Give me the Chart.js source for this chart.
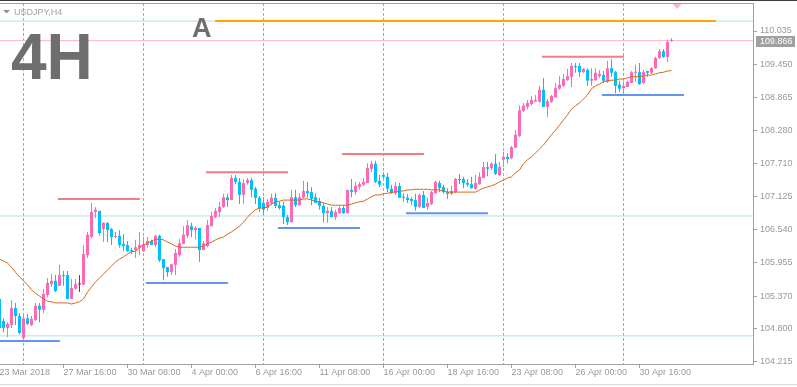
<!DOCTYPE html>
<html><head><meta charset="utf-8">
<script src="https://cdn.jsdelivr.net/npm/chart.js@4.4.1/dist/chart.umd.min.js"></script>
<style>html,body{margin:0;padding:0;background:#fff;overflow:hidden}canvas{display:block}</style>
</head><body>
<canvas id="c" width="797" height="387"></canvas>
<script>
const symbolTitle = 'USDJPY,H4';
const bigLabel = '4H';
const levelTag = 'A';
const xTickLabels = ['23 Mar 2018','27 Mar 16:00','30 Mar 08:00','4 Apr 00:00','6 Apr 16:00','11 Apr 08:00','16 Apr 00:00','18 Apr 16:00','23 Apr 08:00','26 Apr 00:00','30 Apr 16:00'];
const xTickBars = [0,16,32,48,64,80,96,112,128,144,160];
const gridBars = [6,36,66,96,126,156];
const yTickValues = [110.035,109.450,108.865,108.280,107.710,107.125,106.540,105.955,105.370,104.800,104.215];

const opens = [105.32,104.93,104.81,104.86,105.16,105.02,104.63,104.98,104.86,104.95,105.20,105.13,105.39,105.58,105.64,105.55,105.74,105.74,105.32,105.50,
105.575,105.57,106.09,106.41,106.85,106.87,106.55,106.66,106.55,106.41,106.43,106.29,106.27,106.18,106.18,106.22,106.16,106.27,106.34,106.27,
106.43,106.02,105.88,105.79,105.92,106.09,106.29,106.43,106.60,106.53,106.57,106.18,106.25,106.60,106.76,106.85,106.94,107.11,107.06,107.45,
107.38,107.15,107.36,107.41,107.26,107.10,107.01,106.92,107.01,107.10,106.97,106.96,106.76,106.67,107.11,106.97,107.11,107.22,107.20,107.11,
107.04,106.96,106.83,106.87,106.76,106.83,106.92,106.83,107.24,107.20,107.29,107.33,107.36,107.61,107.70,107.40,107.50,107.47,107.26,107.18,
107.31,107.11,107.10,107.08,107.06,106.94,107.15,106.94,106.99,107.18,107.36,107.29,107.20,107.17,107.20,107.43,107.43,107.36,107.34,107.26,
107.34,107.45,107.64,107.62,107.70,107.50,107.77,107.82,107.80,107.98,108.19,108.63,108.70,108.75,108.79,108.79,109.00,108.70,108.79,108.87,
109.02,109.07,109.17,109.23,109.42,109.42,109.31,109.35,109.16,109.17,109.24,109.26,109.14,109.38,109.31,109.09,109.03,109.05,109.12,109.30,
109.31,109.12,109.33,109.30,109.38,109.56,109.68,109.58,109.86];
const highs = [105.37,104.98,104.91,105.30,105.25,105.07,105.06,105.06,105.02,105.25,105.25,105.50,105.69,105.76,105.74,105.92,105.81,105.81,105.67,105.67,
105.74,106.27,106.50,107.01,106.94,106.87,106.67,106.67,106.57,106.50,106.53,106.46,106.34,106.22,106.36,106.50,106.41,106.41,106.36,106.45,
106.45,106.02,105.88,105.93,106.20,106.37,106.60,106.71,106.66,106.60,106.57,106.34,106.71,106.85,106.92,107.03,107.17,107.17,107.50,107.50,
107.45,107.43,107.45,107.45,107.29,107.13,107.11,107.08,107.17,107.18,107.03,107.03,106.80,107.24,107.24,107.18,107.40,107.38,107.29,107.18,
107.10,107.01,106.94,106.94,106.89,106.96,106.97,107.24,107.43,107.38,107.38,107.45,107.71,107.75,107.75,107.50,107.55,107.54,107.33,107.38,
107.36,107.18,107.17,107.11,107.17,107.17,107.22,107.10,107.22,107.40,107.40,107.33,107.27,107.31,107.45,107.52,107.47,107.43,107.47,107.50,
107.55,107.73,107.73,107.73,107.87,107.73,107.91,107.89,108.01,108.29,108.73,108.77,108.82,108.89,108.91,109.07,109.21,108.84,108.91,109.12,
109.24,109.28,109.37,109.47,109.47,109.47,109.38,109.38,109.38,109.38,109.35,109.33,109.51,109.54,109.33,109.16,109.14,109.16,109.33,109.44,
109.47,109.35,109.33,109.40,109.58,109.72,109.72,109.88,109.91];
const lows = [104.74,104.74,104.65,104.81,104.86,104.70,104.61,104.86,104.84,104.93,104.91,105.07,105.35,105.53,105.44,105.55,105.55,105.32,105.32,105.48,
105.44,105.57,106.04,106.39,106.74,106.43,106.32,106.32,106.27,106.39,106.22,106.16,106.15,106.11,106.04,106.09,106.15,106.22,106.27,106.23,
105.97,105.65,105.71,105.74,105.74,106.06,106.29,106.39,106.41,106.37,105.97,106.18,106.23,106.60,106.74,106.76,106.92,106.94,107.06,107.34,
106.99,106.99,107.33,107.11,106.99,106.85,106.80,106.87,106.97,106.92,106.89,106.64,106.62,106.67,106.94,106.96,107.08,107.10,106.97,107.01,
106.89,106.67,106.66,106.76,106.71,106.82,106.82,106.82,107.11,107.15,107.24,107.31,107.36,107.55,107.36,107.29,107.45,107.20,107.17,107.15,
107.10,107.03,107.01,106.97,106.87,106.92,106.92,106.89,106.97,107.17,107.20,107.17,107.08,107.15,107.18,107.34,107.27,107.29,107.26,107.24,
107.33,107.45,107.48,107.59,107.50,107.48,107.64,107.71,107.78,107.98,108.17,108.61,108.66,108.72,108.79,108.77,108.70,108.52,108.77,108.87,
109.00,109.05,109.16,109.05,109.30,109.23,109.30,109.07,109.07,109.16,109.21,109.12,109.12,109.23,108.94,108.96,108.94,109.05,109.12,109.14,
109.09,109.10,109.23,109.28,109.37,109.54,109.56,109.49,109.84];
const closes = [104.81,104.81,104.88,105.16,105.02,104.72,104.98,104.88,104.97,105.20,105.13,105.41,105.60,105.64,105.46,105.74,105.72,105.32,105.51,105.58,
105.575,106.11,106.45,106.85,106.89,106.48,106.66,106.53,106.41,106.43,106.27,106.25,106.16,106.16,106.23,106.27,106.29,106.34,106.27,106.43,
106.00,105.86,105.79,105.93,106.13,106.30,106.45,106.62,106.53,106.57,106.18,106.30,106.62,106.78,106.87,106.94,107.11,107.06,107.45,107.38,
107.15,107.36,107.41,107.24,107.10,106.92,106.89,107.03,107.10,106.96,106.92,106.76,106.67,107.11,106.97,107.11,107.22,107.18,107.08,107.01,
106.96,106.83,106.87,106.76,106.85,106.92,106.83,107.24,107.20,107.31,107.34,107.38,107.62,107.70,107.38,107.33,107.47,107.26,107.18,107.31,
107.10,107.10,107.06,107.04,106.94,107.15,106.92,107.01,107.20,107.38,107.27,107.20,107.17,107.22,107.43,107.41,107.36,107.33,107.27,107.36,
107.47,107.64,107.61,107.70,107.52,107.64,107.82,107.78,107.99,108.21,108.64,108.72,108.77,108.82,108.82,109.00,108.70,108.80,108.89,109.03,
109.09,109.19,109.24,109.42,109.40,109.31,109.37,109.16,109.19,109.30,109.28,109.16,109.38,109.30,109.07,109.02,109.07,109.14,109.31,109.31,
109.10,109.31,109.30,109.38,109.56,109.68,109.58,109.84,109.866];
const maValues = [106.02,105.99,105.95,105.88,105.79,105.71,105.64,105.57,105.48,105.42,105.37,105.32,105.28,105.27,105.25,105.25,105.25,105.25,105.23,105.25,
105.27,105.32,105.44,105.53,105.62,105.69,105.76,105.83,105.90,105.97,106.02,106.06,106.11,106.15,106.16,106.22,106.27,106.30,106.34,106.37,
106.37,106.36,106.32,106.29,106.25,106.23,106.23,106.23,106.23,106.23,106.23,106.25,106.29,106.32,106.36,106.39,106.41,106.46,106.50,106.55,
106.60,106.67,106.76,106.83,106.89,106.92,106.92,106.94,106.99,107.03,107.04,107.06,107.06,107.06,107.06,107.06,107.08,107.08,107.06,107.04,
107.03,107.01,106.99,106.97,106.97,106.97,106.97,106.97,106.99,107.01,107.03,107.04,107.08,107.12,107.15,107.15,107.17,107.18,107.20,107.20,
107.22,107.22,107.24,107.24,107.25,107.25,107.25,107.25,107.24,107.24,107.24,107.22,107.20,107.20,107.20,107.20,107.20,107.20,107.20,107.20,
107.24,107.27,107.29,107.31,107.34,107.38,107.41,107.45,107.47,107.54,107.59,107.70,107.77,107.82,107.89,107.96,108.03,108.12,108.21,108.29,
108.38,108.47,108.56,108.66,108.72,108.77,108.84,108.91,109.02,109.07,109.10,109.14,109.16,109.17,109.17,109.19,109.19,109.21,109.23,109.23,
109.24,109.24,109.26,109.26,109.28,109.30,109.31,109.33,109.34];

const levelLines = [110.21, 106.78, 104.67];
const currentPrice = 109.866;
const levelA = 110.21, levelAFrom = 53.9, levelATo = 179.1;
const resistLevels = [107.08, 107.55, 107.87, 109.58];
const resistFrom = [14.6, 51.6, 85.6, 135.6];
const resistTo = [35.1, 72.1, 106.1, 156.1];
const supportLevels = [104.58, 105.60, 106.57, 106.83, 108.91];
const supportFrom = [0, 36.6, 69.6, 101.6, 150.6];
const supportTo = [15.1, 57.1, 90.1, 122.1, 171.1];

const X_MIN = 0.125, X_MAX = 188.375, Y_MIN = 104.175, Y_MAX = 110.528;
const BULL = '#ff69b4', BEAR = '#00bfff', DOJI = '#ff0000';
const FONT = '"Liberation Sans", Arial, sans-serif';
Chart.defaults.font.family = FONT;
Chart.defaults.font.size = 9;

const candleColors = opens.map((o, i) => closes[i] > o ? BULL : (closes[i] < o ? BEAR : DOJI));
const wickData = highs.map((h, i) => ({x: i, y: [lows[i], h]}));
const bodyData = opens.map((o, i) => ({x: i, y: [o, closes[i]]}));
const maData = maValues.map((v, i) => ({x: i, y: v}));

function seg(from, to, val, color, width, order) {
  return {type: 'line', data: [{x: from, y: val}, {x: to, y: val}], borderColor: color, borderWidth: width,
    pointRadius: 0, fill: false, order: order, tension: 0};
}
const datasets = [];
levelLines.forEach(v => datasets.push(seg(X_MIN, X_MAX, v, '#b0e0e6', 1, 20)));
datasets.push(seg(X_MIN, X_MAX, currentPrice, '#ffb6c1', 1, 19));
datasets.push({type: 'bar', data: wickData, backgroundColor: candleColors, barThickness: 1, grouped: false,
  borderWidth: 0, inflateAmount: 0, order: 6});
datasets.push({type: 'bar', data: bodyData, backgroundColor: candleColors, barThickness: 3, grouped: false,
  borderWidth: 0, inflateAmount: 0, minBarLength: 1, order: 5});
datasets.push({type: 'line', data: maData, borderColor: '#d2691e', borderWidth: 1, pointRadius: 0, tension: 0, order: 4});
resistLevels.forEach((v, i) => datasets.push(seg(resistFrom[i], resistTo[i], v, '#f08080', 2, 2)));
supportLevels.forEach((v, i) => datasets.push(seg(supportFrom[i], supportTo[i], v, '#6495ed', 2, 2)));
datasets.push(seg(levelAFrom, levelATo, levelA, '#ffa500', 2, 1));

const decor = {
  id: 'decor',
  beforeDraw(chart) {
    const ctx = chart.ctx;
    ctx.save(); ctx.fillStyle = '#fff'; ctx.fillRect(0, 0, chart.width, chart.height); ctx.restore();
  },
  afterDraw(chart) {
    const {ctx, chartArea: a, scales: {x, y}} = chart;
    ctx.save();
    ctx.fillStyle = '#3c3c3c'; ctx.fillRect(0, 0, chart.width, 1);
    ctx.fillStyle = '#a0a0a0'; ctx.fillRect(a.left, Math.round(a.top), a.right - a.left, 1);
    ctx.fillStyle = '#d8d8d8'; ctx.fillRect(0, chart.height - 3, chart.width, 1);
    // title
    ctx.fillStyle = '#909090';
    ctx.beginPath(); ctx.moveTo(3, 10); ctx.lineTo(10, 10); ctx.lineTo(6.5, 13.5); ctx.closePath(); ctx.fill();
    ctx.fillStyle = '#a0a0a0'; ctx.font = '9px ' + FONT; ctx.textBaseline = 'alphabetic'; ctx.textAlign = 'left';
    ctx.fillText(symbolTitle, 14, 15);
    // big label
    ctx.fillStyle = '#6e6e6e'; ctx.font = 'bold 64px ' + FONT;
    ctx.fillText(bigLabel, 11, 79);
    // A tag
    ctx.font = 'bold 27px ' + FONT;
    ctx.fillText(levelTag, x.getPixelForValue(48.1), y.getPixelForValue(levelA) + 16);
    // current price box
    const py = Math.round(y.getPixelForValue(currentPrice));
    ctx.fillStyle = '#a0a0a0'; ctx.fillRect(a.right + 3, py - 5, 39, 11);
    ctx.fillStyle = '#ffffff'; ctx.font = '9px ' + FONT; ctx.textBaseline = 'middle';
    ctx.fillText(currentPrice.toFixed(3), a.right + 7, py + 0.5);
    // shift marker
    const mx = x.getPixelForValue(169.4);
    ctx.fillStyle = '#ffb6c1';
    ctx.beginPath(); ctx.moveTo(mx - 4.5, a.top + 1); ctx.lineTo(mx + 4.5, a.top + 1); ctx.lineTo(mx, a.top + 6); ctx.closePath(); ctx.fill();
    ctx.restore();
  }
};

new Chart(document.getElementById('c'), {
  type: 'line',
  data: {datasets},
  options: {
    responsive: false, animation: false, devicePixelRatio: 1,
    layout: {padding: {top: 3, left: 0, right: 0, bottom: 0}, autoPadding: false},
    plugins: {legend: {display: false}, tooltip: {enabled: false}},
    events: [],
    scales: {
      x: {
        type: 'linear', min: X_MIN, max: X_MAX, offset: false, position: 'bottom', weight: 1,
        afterBuildTicks: s => { s.ticks = xTickBars.map(v => ({value: v})); },
        afterFit: s => { s.height = 23; s.paddingLeft = 0; s.paddingRight = 0; },
        ticks: {autoSkip: false, maxRotation: 0, minRotation: 0, align: 'start', padding: -1, color: '#999999',
          font: {size: 9, family: FONT}, callback: (v, i) => xTickLabels[i]},
        grid: {drawOnChartArea: false, drawTicks: true, tickLength: 4, color: '#a0a0a0', offset: false},
        border: {display: true, color: '#a0a0a0'}
      },
      xg: {
        type: 'linear', min: X_MIN, max: X_MAX, offset: false, position: 'bottom', weight: 0,
        afterBuildTicks: s => { s.ticks = gridBars.map(v => ({value: v})); },
        afterFit: s => { s.height = 0; s.paddingLeft = 0; s.paddingRight = 0; },
        ticks: {display: false},
        grid: {drawOnChartArea: true, drawTicks: false, color: '#a8a8a8', offset: false},
        border: {display: false, dash: [3, 2]}
      },
      y: {
        type: 'linear', position: 'right', min: Y_MIN, max: Y_MAX,
        afterBuildTicks: s => { s.ticks = yTickValues.map(v => ({value: v})); },
        afterFit: s => { s.width = 44; s.paddingTop = 0; s.paddingBottom = 0; },
        ticks: {color: '#999999', font: {size: 9, family: FONT}, padding: 3, callback: v => Number(v).toFixed(3)},
        grid: {drawOnChartArea: false, drawTicks: true, tickLength: 4, color: '#a0a0a0'},
        border: {display: true, color: '#a0a0a0'}
      }
    }
  },
  plugins: [decor]
});
</script>
</body></html>
